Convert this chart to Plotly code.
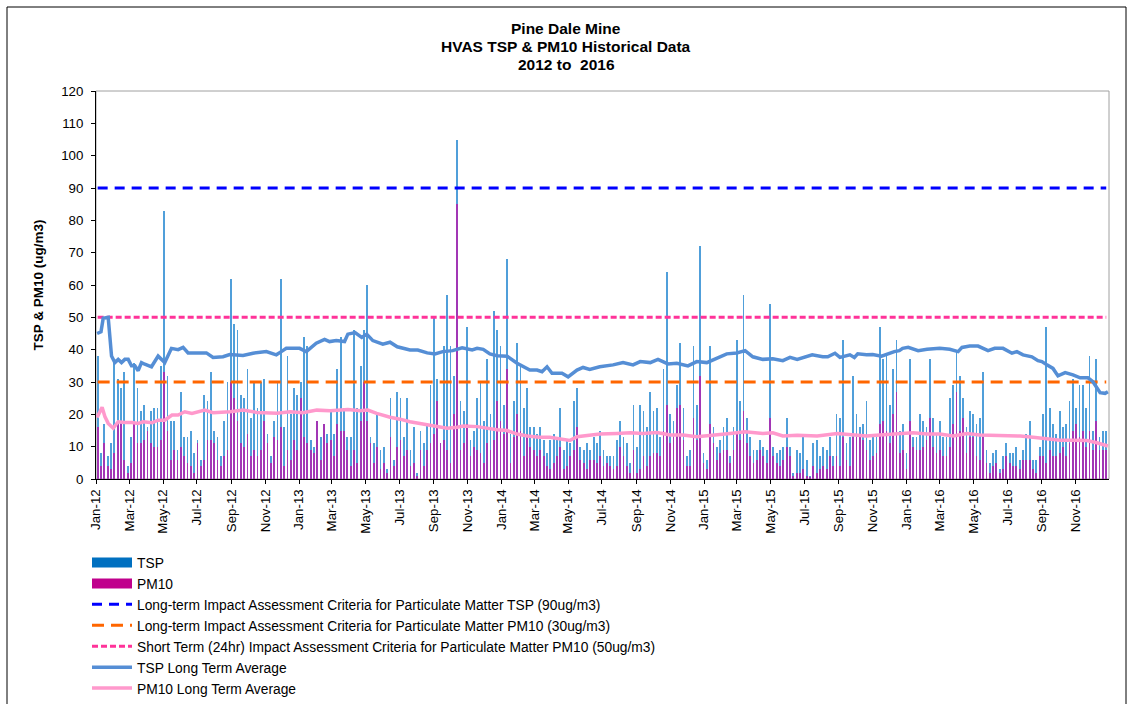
import plotly.graph_objects as go
import pandas as pd

# ---------------- data ----------------
title_lines = ["Pine Dale Mine", "HVAS TSP & PM10 Historical Data", "2012 to  2016"]
y_title = "TSP & PM10 (ug/m3)"

first_sample = "2012-01-04"     # HVAS run every 6th day
sample_step_days = 6

tsp = [38, 8, 17, 7, 11, 36, 31, 28, 33, 4,
       13, 36, 28, 21, 23, 16, 21, 22, 22, 35,
       83, 32, 18, 18, 9, 27, 13, 13, 15, 8,
       12, 6, 26, 24, 33, 15, 13, 7, 18, 30,
       62, 48, 46, 26, 25, 34, 19, 30, 22, 30,
       31, 14, 7, 18, 30, 62, 16, 38, 20, 28,
       26, 30, 44, 41, 12, 10, 18, 13, 17, 14,
       21, 14, 34, 44, 22, 13, 13, 46, 22, 35,
       46, 60, 13, 11, 20, 9, 10, 3, 25, 6,
       27, 25, 13, 25, 9, 16, 2, 15, 11, 17,
       29, 50, 31, 9, 41, 57, 41, 32, 105, 24,
       21, 47, 12, 15, 25, 30, 18, 37, 20, 52,
       46, 41, 23, 68, 14, 24, 42, 35, 22, 28,
       16, 16, 14, 16, 12, 8, 12, 14, 12, 22,
       9, 12, 11, 24, 28, 10, 9, 11, 9, 13,
       11, 15, 9, 7, 7, 7, 12, 18, 13, 11,
       5, 23, 10, 23, 21, 16, 27, 21, 22, 13,
       34, 64, 20, 18, 29, 42, 22, 7, 9, 41,
       23, 72, 8, 6, 41, 16, 10, 12, 16, 19,
       7, 16, 43, 24, 57, 19, 13, 9, 9, 12,
       10, 9, 54, 10, 8, 9, 10, 19, 10, 2,
       9, 8, 13, 6, 1, 11, 12, 7, 10, 9,
       13, 7, 20, 19, 43, 11, 13, 32, 20, 16,
       17, 24, 12, 13, 13, 47, 37, 38, 23, 34,
       43, 15, 17, 8, 37, 13, 13, 20, 18, 16,
       37, 19, 14, 18, 13, 13, 25, 29, 40, 32,
       25, 16, 21, 20, 17, 19, 33, 9, 5, 8,
       9, 3, 7, 11, 8, 8, 10, 6, 9, 14,
       18, 6, 6, 10, 20, 47, 22, 17, 14, 21,
       16, 17, 24, 31, 22, 29, 29, 22, 38, 15,
       37, 13, 15, 15]

pm10 = [16, 4, 11, 4, 3, 8, 17, 17, 6, 2,
        5, 17, 11, 11, 12, 15, 11, 10, 10, 12,
        33, 15, 6, 9, 6, 10, 7, 5, 4, 2,
        11, 4, 6, 12, 12, 11, 6, 4, 7, 9,
        30, 25, 18, 11, 10, 14, 7, 9, 7, 9,
        18, 11, 5, 13, 12, 16, 4, 9, 6, 12,
        9, 25, 13, 11, 9, 8, 18, 6, 17, 11,
        12, 7, 17, 15, 15, 9, 4, 9, 5, 18,
        30, 18, 11, 5, 10, 3, 5, 2, 13, 4,
        10, 12, 7, 9, 4, 5, 1, 9, 4, 9,
        11, 14, 24, 11, 12, 9, 5, 20, 85, 9,
        11, 17, 7, 10, 9, 8, 5, 11, 9, 12,
        24, 18, 14, 34, 5, 13, 20, 15, 7, 14,
        10, 9, 7, 9, 7, 4, 3, 5, 7, 10,
        3, 4, 7, 9, 16, 6, 5, 3, 6, 6,
        5, 7, 4, 5, 4, 3, 4, 10, 7, 4,
        2, 9, 2, 3, 7, 4, 7, 8, 8, 7,
        15, 23, 11, 13, 22, 23, 12, 4, 4, 19,
        12, 32, 5, 3, 17, 11, 6, 8, 9, 9,
        5, 9, 15, 12, 21, 11, 7, 5, 6, 9,
        7, 5, 19, 7, 5, 4, 6, 10, 7, 1,
        2, 2, 3, 1, 0.5, 4, 2, 3, 4, 3,
        7, 4, 7, 4, 13, 6, 4, 13, 13, 13,
        12, 9, 6, 7, 8, 17, 18, 15, 11, 20,
        27, 8, 9, 3, 18, 10, 9, 9, 10, 12,
        19, 10, 8, 9, 7, 7, 10, 17, 27, 15,
        19, 8, 13, 13, 7, 6, 13, 5, 2, 4,
        5, 2, 3, 7, 5, 4, 4, 3, 6, 6,
        6, 3, 2, 7, 7, 5, 9, 7, 7, 8,
        10, 7, 11, 15, 17, 13, 15, 10, 15, 9,
        18, 9, 9, 9]

tsp_lta_dates = ["2012-01-03", "2012-01-10", "2012-01-14", "2012-01-23", "2012-01-29", "2012-02-04",
                 "2012-02-10", "2012-02-16", "2012-02-22", "2012-02-28", "2012-03-05", "2012-03-11",
                 "2012-03-17", "2012-03-23", "2012-03-29", "2012-04-04", "2012-04-10", "2012-04-22",
                 "2012-05-04", "2012-05-16", "2012-05-28", "2012-06-06", "2012-06-15", "2012-07-18",
                 "2012-07-30", "2012-08-17", "2012-08-29", "2012-09-22", "2012-10-10", "2012-11-03",
                 "2012-11-21", "2012-11-30", "2012-12-09", "2013-01-02", "2013-01-14", "2013-02-01",
                 "2013-02-16", "2013-02-25", "2013-03-09", "2013-03-24", "2013-03-30", "2013-04-12",
                 "2013-04-24", "2013-05-03", "2013-05-14", "2013-06-01", "2013-06-14", "2013-06-27",
                 "2013-07-20", "2013-08-03", "2013-08-20", "2013-09-03", "2013-09-17", "2013-10-05",
                 "2013-10-22", "2013-11-09", "2013-11-18", "2013-11-29", "2013-12-11", "2013-12-24",
                 "2014-01-11", "2014-01-29", "2014-02-07", "2014-02-21", "2014-03-06", "2014-03-15",
                 "2014-03-24", "2014-04-02", "2014-04-20", "2014-05-01", "2014-05-17", "2014-05-28",
                 "2014-06-09", "2014-06-27", "2014-07-21", "2014-08-08", "2014-08-26", "2014-09-08",
                 "2014-09-26", "2014-10-10", "2014-10-28", "2014-11-13", "2014-12-03", "2014-12-19",
                 "2015-01-06", "2015-01-24", "2015-02-11", "2015-03-01", "2015-03-16", "2015-03-30",
                 "2015-04-17", "2015-05-05", "2015-05-23", "2015-06-05", "2015-06-18", "2015-07-15",
                 "2015-08-03", "2015-08-12", "2015-08-25", "2015-09-03", "2015-09-21", "2015-09-29",
                 "2015-10-05", "2015-10-21", "2015-11-01", "2015-11-17", "2015-11-26", "2015-12-10",
                 "2015-12-19", "2015-12-25", "2016-01-04", "2016-01-22", "2016-02-07", "2016-03-01",
                 "2016-03-19", "2016-04-03", "2016-04-10", "2016-04-24", "2016-05-09", "2016-05-27",
                 "2016-06-08", "2016-06-23", "2016-07-09", "2016-07-18", "2016-07-29", "2016-08-14",
                 "2016-08-25", "2016-09-01", "2016-09-10", "2016-09-21", "2016-09-30", "2016-10-13",
                 "2016-10-27", "2016-11-09", "2016-11-23", "2016-12-02", "2016-12-15", "2016-12-24",
                 "2016-12-29"]
tsp_lta = [45, 45.5, 49.7, 50, 38, 36,
           37, 36, 37, 37, 35, 35,
           33.5, 36, 35.5, 35, 34.7, 38,
           36, 40.4, 40, 40.7, 39, 39,
           37.6, 37.8, 38.5, 38.2, 38.9, 39.4,
           38.4, 39.4, 40.4, 40.4, 39.4, 42,
           43.2, 42.5, 42.8, 42.5, 44.8, 45.3,
           43.8, 44.8, 42.8, 41.7, 42.3, 40.9,
           39.9, 39.9, 39, 38.7, 39.4, 39.7,
           40.6, 39.9, 40.4, 40.1, 38.7, 38.1,
           38, 35.8, 35, 33.7, 33.7, 33.2,
           34.7, 32.7, 32.7, 31.6, 33.7, 34.5,
           33.9, 34.7, 35.3, 36, 35.3, 36.3,
           36, 37, 35.6, 35.8, 35, 36.3,
           36, 37.3, 38.7, 39, 39.7, 37.8,
           37, 37.2, 36.6, 37.6, 37, 38.4,
           37.8, 37.8, 38.9, 37.6, 38.4, 37.6,
           38.7, 38.4, 38.5, 38, 38.6, 39.4,
           39.7, 40.4, 40.7, 39.7, 40.1, 40.4,
           40.1, 39.4, 40.7, 41.1, 41.1, 39.7,
           40.4, 40.4, 38.9, 39.4, 38.4, 37.8,
           36.6, 36.3, 35.3, 34.2, 31.9, 32.9,
           32.2, 31.3, 31.3, 30.1, 26.7, 26.5,
           27]

pm10_lta_dates = ["2012-01-03", "2012-01-05", "2012-01-12", "2012-01-17", "2012-01-23", "2012-02-01",
                  "2012-02-10", "2012-02-22", "2012-03-06", "2012-03-17", "2012-03-26", "2012-04-11",
                  "2012-04-22", "2012-05-04", "2012-05-17", "2012-05-28", "2012-06-09", "2012-06-22",
                  "2012-07-15", "2012-07-30", "2012-08-30", "2012-09-22", "2012-10-17", "2012-11-22",
                  "2012-12-16", "2013-01-08", "2013-02-02", "2013-02-26", "2013-03-30", "2013-04-21",
                  "2013-05-05", "2013-05-21", "2013-06-14", "2013-07-02", "2013-07-20", "2013-08-12",
                  "2013-09-03", "2013-09-25", "2013-10-13", "2013-10-24", "2013-11-18", "2013-12-06",
                  "2013-12-24", "2014-01-11", "2014-01-29", "2014-02-16", "2014-03-11", "2014-03-29",
                  "2014-04-16", "2014-05-04", "2014-05-17", "2014-06-04", "2014-06-27", "2014-07-28",
                  "2014-08-21", "2014-09-13", "2014-10-08", "2014-11-01", "2014-11-24", "2014-12-19",
                  "2015-01-24", "2015-02-17", "2015-03-16", "2015-04-17", "2015-05-05", "2015-05-23",
                  "2015-06-18", "2015-07-24", "2015-08-29", "2015-09-25", "2015-10-21", "2015-11-13",
                  "2015-12-07", "2015-12-25", "2016-01-13", "2016-02-07", "2016-03-01", "2016-03-25",
                  "2016-04-19", "2016-05-12", "2016-06-05", "2016-06-30", "2016-07-24", "2016-08-16",
                  "2016-09-10", "2016-10-04", "2016-10-27", "2016-11-21", "2016-12-09", "2016-12-20",
                  "2016-12-29"]
pm10_lta = [19, 19.8, 22.2, 19.3, 17.2, 15.7,
            17.7, 17.5, 17.5, 17.2, 17.7, 17.4,
            18.2, 18.2, 19.8, 19.8, 20.8, 20.3,
            21.3, 20.5, 20.8, 21.3, 20.6, 20.3,
            20.8, 20.5, 21.3, 21.1, 21.5, 21.1,
            21.3, 20.3, 19.1, 18.5, 17.7, 17,
            16.4, 15.7, 16, 16.4, 16.2, 15.7,
            15.2, 15, 13.9, 13.3, 12.9, 12.9,
            12.3, 11.9, 13.1, 13.5, 13.9, 14.1,
            14.3, 14.1, 14.4, 13.6, 13.6, 13.1,
            13.6, 14.1, 14.6, 14.1, 14.3, 13.3,
            13.5, 13.3, 14.1, 13.8, 13.3, 13.6,
            13.9, 14.3, 14.3, 13.9, 13.9, 13.3,
            14.1, 13.6, 13.5, 13.6, 13.3, 12.9,
            12.5, 12, 12, 11.9, 11.2, 10.5,
            10.2]

tsp_criteria = 90       # long-term TSP
pm10_criteria = 30      # long-term PM10
pm10_short_term = 50    # 24 hr PM10

names = ["TSP", "PM10",
         "Long-term Impact Assessment Criteria for Particulate Matter TSP (90ug/m3)",
         "Long-term Impact Assessment Criteria for Particulate Matter PM10 (30ug/m3)",
         "Short Term (24hr) Impact Assessment Criteria for Particulate Matter PM10 (50ug/m3)",
         "TSP Long Term Average",
         "PM10 Long Term Average"]

# ---------------- figure ----------------
FONT = "Liberation Sans, Arial, sans-serif"
sample_dates = pd.date_range(first_sample, periods=len(tsp), freq=f"{sample_step_days}D")
bar_w = 1.4 * 24 * 3600 * 1000

fig = go.Figure()
fig.add_trace(go.Bar(x=sample_dates, y=tsp, width=bar_w, marker=dict(color="#509FDA", line_width=0),
                     showlegend=False, name=names[0]))
fig.add_trace(go.Bar(x=sample_dates, y=pm10, width=bar_w, marker=dict(color="#A236B5", line_width=0),
                     showlegend=False, name=names[1]))

# legend swatches for the bar series
fig.add_trace(go.Scatter(x=[None], y=[None], mode="lines", name=names[0], legendgroup="a",
                         legendrank=1, line=dict(color="#0070C0", width=10)))
fig.add_trace(go.Scatter(x=[None], y=[None], mode="lines", name=names[1], legendgroup="b",
                         legendrank=2, line=dict(color="#C0008C", width=10)))

n = len(sample_dates)
fig.add_trace(go.Scatter(x=sample_dates, y=[tsp_criteria] * n, mode="lines", name=names[2],
                         legendgroup="c", legendrank=3,
                         line=dict(color="#0000FF", width=3, dash="10px,7px")))
fig.add_trace(go.Scatter(x=sample_dates, y=[pm10_criteria] * n, mode="lines", name=names[3],
                         legendgroup="d", legendrank=4,
                         line=dict(color="#FF6600", width=3, dash="12px,7px")))
fig.add_trace(go.Scatter(x=sample_dates, y=[pm10_short_term] * n, mode="lines", name=names[4],
                         legendgroup="e", legendrank=5,
                         line=dict(color="#FF3399", width=3, dash="6px,3px")))
fig.add_trace(go.Scatter(x=pd.to_datetime(tsp_lta_dates), y=tsp_lta, mode="lines", name=names[5],
                         legendgroup="f", legendrank=6,
                         line=dict(color="#558ED5", width=3.5)))
fig.add_trace(go.Scatter(x=pd.to_datetime(pm10_lta_dates), y=pm10_lta, mode="lines", name=names[6],
                         legendgroup="g", legendrank=7,
                         line=dict(color="#FF99CC", width=3.5)))

L, R, T, B = 96, 23, 91, 225
W, H = 1132, 704
pw, ph = W - L - R, H - T - B


def px(xp):
    return (xp - L) / pw


def py(yp):
    return (H - B - yp) / ph


title_y = [29, 46.5, 64]
annotations = [dict(text=f"<b>{t}</b>", xref="paper", yref="paper", x=px(566), y=py(yy),
                    xanchor="center", yanchor="middle", showarrow=False,
                    font=dict(family=FONT, size=15.5, color="black"))
               for t, yy in zip(title_lines, title_y)]

fig.update_layout(
    width=W, height=H,
    margin=dict(l=L, r=R, t=T, b=B, autoexpand=False),
    paper_bgcolor="white", plot_bgcolor="white",
    barmode="overlay", bargap=0,
    font=dict(family=FONT, size=13, color="black"),
    annotations=annotations,
    xaxis=dict(type="date", range=["2012-01-01", "2016-12-31"],
               tickformat="%b-%y", dtick="M2", tick0="2012-01-01",
               tickangle=-90, ticks="outside", ticklen=4, tickcolor="black",
               showline=True, linecolor="black", linewidth=1,
               showgrid=False, zeroline=False,
               tickfont=dict(family=FONT, size=13.3)),
    yaxis=dict(range=[0, 120], dtick=10, ticks="outside", ticklen=4, tickcolor="black",
               showline=True, linecolor="black", linewidth=1,
               showgrid=False, zeroline=False, ticklabelstandoff=5,
               tickfont=dict(family=FONT, size=13.3),
               title=dict(text=f"<b>{y_title}</b>", font=dict(family=FONT, size=13.5), standoff=14)),
    legend=dict(orientation="v", x=px(87), xanchor="left", y=py(547), yanchor="top",
                font=dict(family=FONT, size=13.8), tracegroupgap=0,
                bgcolor="rgba(0,0,0,0)", itemwidth=40),
    shapes=[
        dict(type="rect", xref="paper", yref="paper", x0=0, x1=1, y0=0, y1=1,
             line=dict(color="#A0A0A0", width=1), layer="below"),
        dict(type="rect", xref="paper", yref="paper", x0=px(7), x1=px(1126), y0=py(712), y1=py(7),
             line=dict(color="black", width=1), layer="below"),
    ],
)

fig.write_html("out.html", config={"displayModeBar": False},
               post_script="document.body.style.margin='0';document.body.style.overflow='hidden';")
